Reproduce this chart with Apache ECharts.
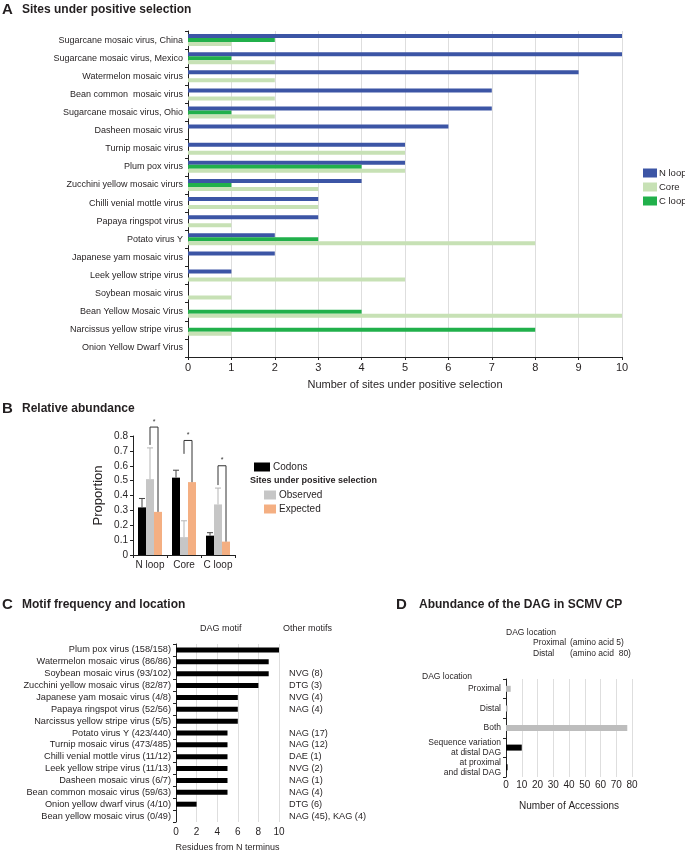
<!DOCTYPE html>
<html>
<head>
<meta charset="utf-8">
<script src="https://cdn.jsdelivr.net/npm/echarts@6/dist/echarts.min.js"></script>
<style>
  html, body { margin: 0; padding: 0; background: #fff; }
  #chart { width: 685px; height: 853px; }
</style>
</head>
<body>
<div id="chart"></div>
<script>
// panel A - sites under positive selection
const aCategories = [
  'Sugarcane mosaic virus, China', 'Sugarcane mosaic virus, Mexico', 'Watermelon mosaic virus',
  'Bean common  mosaic virus', 'Sugarcane mosaic virus, Ohio', 'Dasheen mosaic virus',
  'Turnip mosaic virus', 'Plum pox virus', 'Zucchini yellow mosaic virurs',
  'Chilli venial mottle virus', 'Papaya ringspot virus', 'Potato virus Y',
  'Japanese yam mosaic virus', 'Leek yellow stripe virus', 'Soybean mosaic virus',
  'Bean Yellow Mosaic Virus', 'Narcissus yellow stripe virus', 'Onion Yellow Dwarf Virus'
];
const aNLoop = [10, 10, 9, 7, 7, 6, 5, 5, 4, 3, 3, 2, 2, 1, 0, 0, 0, 0];
const aCLoop = [2, 1, 0, 0, 1, 0, 0, 4, 1, 0, 0, 3, 0, 0, 0, 4, 8, 0];
const aCore = [1, 2, 2, 2, 2, 0, 5, 5, 3, 3, 1, 8, 0, 5, 1, 10, 1, 0];

// panel B - relative abundance
const bCategories = ['N loop', 'Core', 'C loop'];
const bCodons = [0.32, 0.52, 0.13];
const bCodonsErr = [0.38, 0.57, 0.15];
const bObserved = [0.51, 0.12, 0.34];
const bObservedErr = [0.72, 0.23, 0.45];
const bExpected = [0.29, 0.49, 0.09];
// significance brackets: top, bottom of left leg
const bBracketTop = [0.86, 0.77, 0.60];
const bBracketLeft = [0.74, 0.68, 0.47];

// panel C - motif frequency and location
const cCategories = [
  'Plum pox virus (158/158)', 'Watermelon mosaic virus (86/86)', 'Soybean mosaic virus (93/102)',
  'Zucchini yellow mosaic virus (82/87)', 'Japanese yam mosaic virus (4/8)', 'Papaya ringspot virus (52/56)',
  'Narcissus yellow stripe virus (5/5)', 'Potato virus Y (423/440)', 'Turnip mosaic virus (473/485)',
  'Chilli venial mottle virus (11/12)', 'Leek yellow stripe virus (11/13)', 'Dasheen mosaic virus (6/7)',
  'Bean common mosaic virus (59/63)', 'Onion yellow dwarf virus (4/10)', 'Bean yellow mosaic virus (0/49)'
];
const cResidues = [10, 9, 9, 8, 6, 6, 6, 5, 5, 5, 5, 5, 5, 2, 0];
const cOtherMotifs = [
  '', '', 'NVG (8)', 'DTG (3)', 'NVG (4)', 'NAG (4)', '', 'NAG (17)', 'NAG (12)',
  'DAE (1)', 'NVG (2)', 'NAG (1)', 'NAG (4)', 'DTG (6)', 'NAG (45), KAG (4)'
];

// panel D - abundance of the DAG in SCMV CP
const dCategories = ['Proximal', 'Distal', 'Both', 'Sequence variation\nat distal DAG', 'at proximal\nand distal DAG'];
const dLocation = [3, 1, 77, '-', '-'];
const dVariation = ['-', '-', '-', 10, 1];

const FONT = 'Liberation Sans, Arial, Helvetica, sans-serif';
const TXT = '#231f20';

let chart = echarts.init(document.getElementById('chart'));

function headerText(x, y, text, size, weight) {
  return {
    type: 'text', left: x, top: y,
    style: { text: text, fontSize: size, fontWeight: weight || 'normal', fontFamily: FONT, fill: TXT }
  };
}

function errorBars(values, tops, offset, color) {
  return {
    type: 'custom', xAxisIndex: 1, yAxisIndex: 1, silent: true, z: 5,
    renderItem: function (params, api) {
      let i = api.value(0);
      let p0 = api.coord([i, api.value(1)]);
      let p1 = api.coord([i, api.value(2)]);
      let x = p0[0] + offset;
      let st = { stroke: color, lineWidth: 1 };
      return {
        type: 'group',
        children: [
          { type: 'line', shape: { x1: x, y1: p0[1], x2: x, y2: p1[1] }, style: st },
          { type: 'line', shape: { x1: x - 3, y1: p1[1], x2: x + 3, y2: p1[1] }, style: st }
        ]
      };
    },
    data: values.map((v, i) => [i, v, tops[i]])
  };
}

let catAxisLine = { show: true, lineStyle: { color: '#222', width: 1 } };
let catTick = { show: true, length: 3, interval: 0, lineStyle: { color: '#222' } };
let splitGrey = { show: true, lineStyle: { color: '#dedede', width: 1 } };

let option = {
  animation: false,
  textStyle: { fontFamily: FONT, color: TXT },
  graphic: [
    headerText(2, 2, 'A', 15, 'bold'),
    headerText(22, 4, 'Sites under positive selection', 12, 'bold'),
    headerText(2, 401, 'B', 15, 'bold'),
    headerText(22, 403, 'Relative abundance', 12, 'bold'),
    headerText(250, 476, 'Sites under positive selection', 9, 'bold'),
    headerText(2, 597, 'C', 15, 'bold'),
    headerText(22, 599, 'Motif frequency and location', 12, 'bold'),
    headerText(200, 624, 'DAG motif', 9),
    headerText(283, 624, 'Other motifs', 9),
    headerText(396, 597, 'D', 15, 'bold'),
    headerText(419, 599, 'Abundance of the DAG in SCMV CP', 12, 'bold'),
    headerText(506, 628, 'DAG location', 8.5),
    headerText(533, 638, 'Proximal', 8.5),
    headerText(570, 638, '(amino acid 5)', 8.5),
    headerText(533, 649, 'Distal', 8.5),
    headerText(570, 649, '(amino acid  80)', 8.5),
    headerText(422, 672, 'DAG location', 8.5)
  ],
  legend: [
    {
      data: ['N loop', 'Core', 'C loop'], orient: 'vertical', left: 638, top: 163,
      itemWidth: 14, itemHeight: 9, itemGap: 4, icon: 'rect',
      textStyle: { fontSize: 9.5, color: TXT, padding: [0, 0, 0, -3] }
    },
    {
      data: ['Codons'], left: 249, top: 457,
      itemWidth: 16, itemHeight: 9, icon: 'rect',
      textStyle: { fontSize: 10, color: TXT, padding: [0, 0, 0, -2] }
    },
    {
      data: ['Observed', 'Expected'], orient: 'vertical', left: 259, top: 485,
      itemWidth: 12, itemHeight: 9, itemGap: 4, icon: 'rect',
      textStyle: { fontSize: 10, color: TXT, padding: [0, 0, 0, -2] }
    }
  ],
  grid: [
    { left: 188, top: 31, width: 434, height: 326 },
    { left: 133, top: 436, width: 102, height: 119 },
    { left: 176, top: 644, width: 103, height: 183 },
    { left: 506, top: 679, width: 126, height: 98 }
  ],
  xAxis: [
    {
      gridIndex: 0, type: 'value', min: 0, max: 10, interval: 1,
      axisLine: catAxisLine, axisTick: { show: true, length: 3, lineStyle: { color: '#222' } },
      axisLabel: { fontSize: 11, color: TXT, margin: 5 },
      splitLine: splitGrey,
      name: 'Number of sites under positive selection', nameLocation: 'middle', nameGap: 22,
      nameTextStyle: { fontSize: 11, color: TXT }
    },
    {
      gridIndex: 1, type: 'category', data: bCategories,
      axisLine: catAxisLine, axisTick: catTick,
      axisLabel: { fontSize: 10, color: TXT, margin: 5, interval: 0 }
    },
    {
      gridIndex: 2, type: 'value', min: 0, max: 10, interval: 2,
      axisLine: { show: false }, axisTick: { show: false },
      axisLabel: { fontSize: 10, color: TXT, margin: 5 },
      splitLine: splitGrey,
      name: 'Residues from N terminus', nameLocation: 'middle', nameGap: 21,
      nameTextStyle: { fontSize: 9, color: TXT }
    },
    {
      gridIndex: 3, type: 'value', min: 0, max: 80, interval: 10,
      axisLine: { show: false }, axisTick: { show: false },
      axisLabel: { fontSize: 10, color: TXT, margin: 3 },
      splitLine: splitGrey,
      name: 'Number of Accessions', nameLocation: 'middle', nameGap: 24,
      nameTextStyle: { fontSize: 10, color: TXT }
    }
  ],
  yAxis: [
    {
      gridIndex: 0, type: 'category', data: aCategories, inverse: true,
      axisLine: catAxisLine, axisTick: catTick,
      axisLabel: { fontSize: 9, color: TXT, margin: 5, interval: 0 }
    },
    {
      gridIndex: 1, type: 'value', min: 0, max: 0.8, interval: 0.1,
      axisLine: { show: true, lineStyle: { color: '#222' } },
      axisTick: { show: true, length: 3, lineStyle: { color: '#222' } },
      axisLabel: { fontSize: 10, color: TXT, margin: 5 },
      splitLine: { show: false },
      name: 'Proportion', nameLocation: 'middle', nameGap: 28, nameRotate: 90,
      nameTextStyle: { fontSize: 13, color: TXT }
    },
    {
      gridIndex: 2, type: 'category', data: cCategories, inverse: true,
      axisLine: catAxisLine, axisTick: catTick,
      axisLabel: { fontSize: 9.2, color: TXT, margin: 5, interval: 0 }
    },
    {
      gridIndex: 2, type: 'category', data: cOtherMotifs, inverse: true, position: 'right',
      axisLine: { show: false }, axisTick: { show: false },
      axisLabel: { fontSize: 9.2, color: TXT, margin: 10, align: 'left', interval: 0 }
    },
    {
      gridIndex: 3, type: 'category', data: dCategories, inverse: true,
      axisLine: catAxisLine, axisTick: catTick,
      axisLabel: { fontSize: 8.5, color: TXT, margin: 5, lineHeight: 10, interval: 0 }
    }
  ],
  series: [
    // A
    { name: 'N loop', type: 'bar', xAxisIndex: 0, yAxisIndex: 0, data: aNLoop, barWidth: 4, barGap: '0%', itemStyle: { color: '#3c55a5' } },
    { name: 'C loop', type: 'bar', xAxisIndex: 0, yAxisIndex: 0, data: aCLoop, barWidth: 4, barGap: '0%', itemStyle: { color: '#21b04b' } },
    { name: 'Core', type: 'bar', xAxisIndex: 0, yAxisIndex: 0, data: aCore, barWidth: 4, barGap: '0%', itemStyle: { color: '#c7e1b5' } },
    // B
    { name: 'Codons', type: 'bar', xAxisIndex: 1, yAxisIndex: 1, data: bCodons, barWidth: 8, barGap: '0%', itemStyle: { color: '#000' } },
    { name: 'Observed', type: 'bar', xAxisIndex: 1, yAxisIndex: 1, data: bObserved, barWidth: 8, barGap: '0%', itemStyle: { color: '#c6c6c6' } },
    { name: 'Expected', type: 'bar', xAxisIndex: 1, yAxisIndex: 1, data: bExpected, barWidth: 8, barGap: '0%', itemStyle: { color: '#f4af82' } },
    errorBars(bCodons, bCodonsErr, -8, '#444'),
    errorBars(bObserved, bObservedErr, 0, '#b5b5b5'),
    {
      type: 'custom', xAxisIndex: 1, yAxisIndex: 1, silent: true, z: 6,
      renderItem: function (params, api) {
        let i = api.value(0);
        let top = api.coord([i, api.value(1)]);
        let left = api.coord([i, api.value(2)]);
        let right = api.coord([i, api.value(3)]);
        let xl = top[0], xr = top[0] + 8;
        return {
          type: 'group',
          children: [
            {
              type: 'polyline',
              shape: { points: [[xl, left[1]], [xl, top[1]], [xr, top[1]], [xr, right[1]]] },
              style: { stroke: '#333', lineWidth: 1, fill: null }
            },
            {
              type: 'text',
              style: { text: '*', x: (xl + xr) / 2, y: top[1] - 2, align: 'center', verticalAlign: 'bottom', fontSize: 7, fill: '#333' }
            }
          ]
        };
      },
      data: bCategories.map((c, i) => [i, bBracketTop[i], bBracketLeft[i], bExpected[i]])
    },
    // C
    { name: 'Residues', type: 'bar', xAxisIndex: 2, yAxisIndex: 2, data: cResidues, barWidth: 5, itemStyle: { color: '#000' } },
    // D
    { name: 'DAG location', type: 'bar', xAxisIndex: 3, yAxisIndex: 4, data: dLocation, barWidth: 6, barGap: '-100%', itemStyle: { color: '#bdbdbd' } },
    { name: 'Sequence variation', type: 'bar', xAxisIndex: 3, yAxisIndex: 4, data: dVariation, barWidth: 6, barGap: '-100%', itemStyle: { color: '#000' } }
  ]
};

chart.setOption(option);
</script>
</body>
</html>
